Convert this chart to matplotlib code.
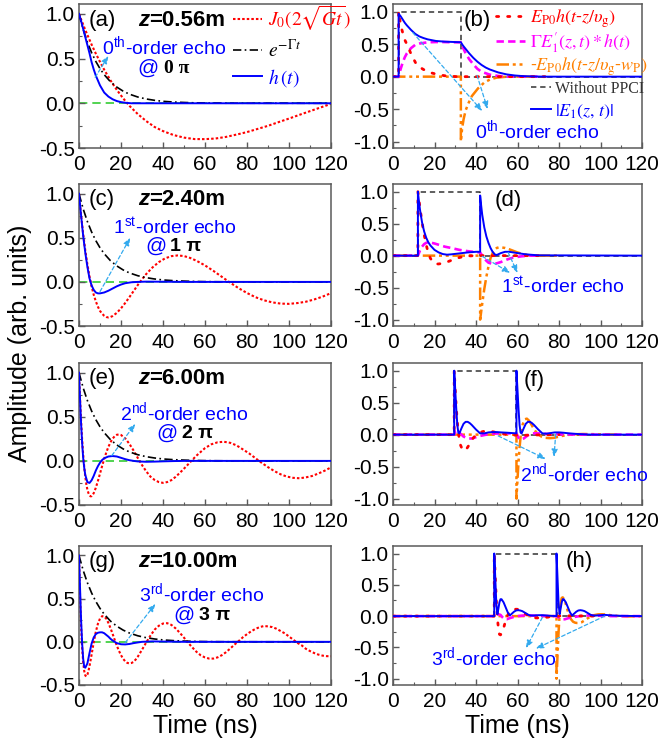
import matplotlib.pyplot as plt
from matplotlib.ticker import MultipleLocator, FormatStrFormatter

plt.rcParams['font.family'] = ['Liberation Sans', 'DejaVu Sans']
plt.rcParams['mathtext.fontset'] = 'stix'
plt.rcParams['axes.unicode_minus'] = False

# ---------------- left column: J0 kernel, exp decay and h(t) ----------------
t_j0_a = [0, 1, 2, 3, 4, 6, 8, 10, 12, 15, 18, 21, 24, 28, 32, 36, 40, 45, 50, 55, 60, 65,
          70, 75, 80, 85, 90, 95, 100, 105, 110, 115, 120]
j0_a = [1.0, 0.938, 0.878, 0.820, 0.764, 0.656, 0.556, 0.463, 0.375, 0.256, 0.150, 0.056,
        -0.028, -0.121, -0.199, -0.265, -0.311, -0.355, -0.384, -0.400, -0.401, -0.394,
        -0.376, -0.350, -0.322, -0.287, -0.252, -0.211, -0.171, -0.129, -0.088, -0.047, -0.007]

t_j0_c = [0, 0.5, 1, 2, 3, 4, 5, 6, 7, 8, 9, 10, 11, 12, 13, 14, 15, 16, 18, 20, 22, 24, 26,
          28, 30, 32, 35, 38, 41, 44, 47, 50, 53, 56, 60, 64, 68, 72, 76, 80, 84, 88, 92, 96,
          100, 104, 108, 112, 116, 120]
j0_c = [1.0, 0.873, 0.755, 0.540, 0.356, 0.197, 0.062, -0.052, -0.145, -0.220, -0.281, -0.329,
        -0.360, -0.384, -0.398, -0.403, -0.398, -0.387, -0.351, -0.300, -0.239, -0.173, -0.104,
        -0.035, 0.029, 0.089, 0.164, 0.224, 0.267, 0.292, 0.300, 0.293, 0.271, 0.239, 0.187,
        0.125, 0.058, -0.009, -0.071, -0.126, -0.173, -0.208, -0.232, -0.246, -0.249, -0.240,
        -0.225, -0.199, -0.167, -0.127]

t_j0_e = [0, 0.25, 0.5, 1, 1.5, 2, 2.5, 3, 3.5, 4, 4.5, 5, 5.5, 6, 6.5, 7, 8, 9, 10, 11, 12, 13,
          14, 15, 16, 17, 18, 19, 20, 22, 24, 26, 28, 30, 32, 34, 36, 38, 40, 42, 44, 46, 48, 50,
          52, 54, 56, 58, 60, 63, 66, 69, 72, 75, 78, 81, 84, 87, 90, 93, 96, 99, 102, 105, 108,
          111, 114, 117, 120]
j0_e = [1.0, 0.844, 0.700, 0.448, 0.238, 0.067, -0.072, -0.181, -0.265, -0.327, -0.365, -0.391,
        -0.402, -0.400, -0.385, -0.366, -0.305, -0.228, -0.144, -0.059, 0.022, 0.096, 0.159,
        0.211, 0.252, 0.280, 0.296, 0.300, 0.294, 0.256, 0.193, 0.117, 0.033, -0.047, -0.118,
        -0.178, -0.216, -0.240, -0.249, -0.240, -0.218, -0.181, -0.136, -0.088, -0.038, 0.013,
        0.061, 0.103, 0.145, 0.188, 0.211, 0.217, 0.205, 0.176, 0.131, 0.085, 0.031, -0.022,
        -0.071, -0.115, -0.152, -0.178, -0.192, -0.197, -0.187, -0.171, -0.143, -0.111, -0.073]

t_j0_g = [0, 0.25, 0.5, 0.75, 1, 1.5, 2, 2.5, 3, 3.5, 4, 4.5, 5, 5.5, 6, 7, 8, 9, 10, 11, 12, 13,
          14, 15, 16, 17, 18, 19, 20, 21, 22, 23, 24, 25, 26, 27, 28, 30, 32, 34, 36, 38, 40, 42,
          44, 46, 48, 50, 52, 54, 56, 58, 60, 62, 64, 66, 68, 70, 72, 74, 76, 78, 80, 82, 84, 86,
          88, 90, 92, 94, 96, 98, 100, 102, 104, 106, 108, 110, 112, 114, 116, 118, 120]
j0_g = [1.0, 0.748, 0.529, 0.340, 0.179, -0.070, -0.237, -0.340, -0.390, -0.401, -0.380, -0.338,
        -0.282, -0.216, -0.147, -0.007, 0.115, 0.209, 0.270, 0.297, 0.294, 0.267, 0.219, 0.159,
        0.092, 0.023, -0.044, -0.103, -0.154, -0.197, -0.225, -0.244, -0.250, -0.245, -0.232,
        -0.205, -0.172, -0.092, -0.008, 0.071, 0.141, 0.186, 0.212, 0.216, 0.196, 0.156, 0.105,
        0.048, -0.012, -0.066, -0.117, -0.157, -0.181, -0.194, -0.194, -0.180, -0.155, -0.120,
        -0.078, -0.033, 0.008, 0.052, 0.089, 0.122, 0.150, 0.170, 0.183, 0.179, 0.171, 0.152,
        0.125, 0.098, 0.062, 0.025, -0.012, -0.040, -0.080, -0.107, -0.130, -0.148, -0.160,
        -0.166, -0.167]

t_exp = [0, 2, 4, 6, 8, 10, 12, 15, 18, 21, 24, 28, 32, 36, 40, 45, 50, 55, 60, 70, 120]
exp_decay = [1.0, 0.827, 0.684, 0.566, 0.468, 0.387, 0.320, 0.240, 0.181, 0.136, 0.102, 0.070,
             0.048, 0.033, 0.022, 0.014, 0.009, 0.005, 0.003, 0.001, 0.0]

t_h_a = [0, 1, 2, 3, 4, 5, 6, 7, 8, 10, 12, 14, 16, 18, 20, 22, 25, 30, 120]
h_a = [1.0, 0.92, 0.83, 0.74, 0.65, 0.56, 0.46, 0.38, 0.31, 0.20, 0.12, 0.075, 0.045, 0.025,
       0.013, 0.006, 0.0, 0.0, 0.0]

t_h_c = [0, 1, 2, 3, 4, 5, 6, 7, 8, 9, 10, 12, 14, 16, 18, 20, 22, 25, 28, 32, 40, 50, 120]
h_c = [1.0, 0.75, 0.52, 0.33, 0.17, 0.04, -0.04, -0.09, -0.12, -0.13, -0.13, -0.12, -0.10,
       -0.075, -0.05, -0.03, -0.015, -0.004, 0.0, 0.003, 0.002, 0.0, 0.0]

t_h_e = [0, 0.5, 1, 1.5, 2, 2.5, 3, 4, 5, 6, 7, 8, 9, 10, 11, 12, 14, 16, 18, 20, 22, 24, 26,
         28, 32, 36, 40, 45, 50, 120]
h_e = [1.0, 0.70, 0.42, 0.20, 0.03, -0.08, -0.16, -0.24, -0.25, -0.22, -0.17, -0.11, -0.06,
       -0.02, 0.01, 0.03, 0.05, 0.055, 0.05, 0.035, 0.02, 0.008, 0.0, -0.006, -0.01, -0.008,
       -0.005, -0.002, 0.0, 0.0]

t_h_g = [0, 0.5, 1, 1.5, 2, 2.5, 3, 4, 5, 6, 7, 8, 9, 10, 11, 12, 13, 14, 15, 16, 17, 18, 20,
         22, 24, 26, 28, 30, 35, 40, 50, 120]
h_g = [1.0, 0.62, 0.25, -0.02, -0.20, -0.29, -0.30, -0.25, -0.13, -0.02, 0.05, 0.09, 0.105,
       0.11, 0.11, 0.10, 0.08, 0.06, 0.035, 0.015, 0.0, -0.015, -0.028, -0.03, -0.025, -0.015,
       -0.007, 0.0, 0.005, 0.003, 0.0, 0.0]

# ---------------- right column: field components ----------------
pp_level = [0, 0, 1, 1, 0, 0]
t_pp_b = [0, 2.7, 2.7, 32.7, 32.7, 120]
t_pp_d = [0, 12, 12, 42, 42, 120]
t_pp_f = [0, 29.5, 29.5, 59.5, 59.5, 120]
t_pp_h = [0, 48.8, 48.8, 78.8, 78.8, 120]

t_red_b = [0, 2.7, 2.7, 3.7, 4.4, 5.5, 7.1, 8.7, 11.1, 12.7, 14.7, 18.2, 20.7, 24.7, 30.7, 75]
red_b = [0, 0, 1.0, 0.80, 0.71, 0.58, 0.47, 0.35, 0.20, 0.15, 0.11, 0.06, 0.04, 0.015, 0.0, 0.0]
t_mag_b = [0, 2.7, 3.7, 4.7, 5.7, 6.7, 8.7, 10.7, 12.7, 16.7, 22.7, 28.7, 32.7, 33.7, 34.7,
           36.7, 38.7, 40.7, 42.7, 46.7, 50.7, 55, 70]
mag_b = [0, 0, 0.12, 0.22, 0.30, 0.36, 0.44, 0.49, 0.51, 0.53, 0.535, 0.53, 0.53, 0.45, 0.38,
         0.27, 0.19, 0.12, 0.075, 0.03, 0.01, 0.0, 0.0]
t_org_b = [0, 32.7, 32.7, 33.3, 34, 35, 36.5, 38, 41, 44, 47, 50, 55, 70]
org_b = [0, 0, -1.0, -0.80, -0.66, -0.52, -0.40, -0.30, -0.18, -0.09, -0.04, -0.015, 0.0, 0.0]
t_e1_b = [0, 2.7, 2.7, 3.7, 4.7, 5.7, 6.7, 8.7, 10.7, 12.7, 14.7, 16.7, 20.7, 24.7, 28.7, 32.7,
          33.7, 34.7, 35.7, 36.7, 38.7, 40.7, 42.7, 44.7, 46.7, 50.7, 54.7, 58.7, 62.7, 67.7,
          72.7, 120]
e1_b = [0, 0, 0.97, 0.93, 0.88, 0.83, 0.79, 0.72, 0.66, 0.62, 0.595, 0.575, 0.55, 0.54, 0.535,
        0.53, 0.48, 0.44, 0.40, 0.36, 0.29, 0.23, 0.18, 0.14, 0.11, 0.065, 0.035, 0.018, 0.008,
        0.003, 0.0, 0.0]

t_red_d = [0, 12, 12, 13, 14, 15, 16, 17, 18, 19, 20, 21, 22, 24, 26, 28, 30, 32, 34, 37, 40, 70]
red_d = [0, 0, 1.0, 0.75, 0.52, 0.33, 0.17, 0.04, -0.04, -0.09, -0.12, -0.13, -0.13, -0.12,
         -0.10, -0.075, -0.05, -0.03, -0.015, -0.004, 0.0, 0.0]
t_mag_d = [0, 12, 13, 14, 15, 16, 17, 18, 20, 22, 25, 28, 32, 36, 40, 42, 43, 44, 46, 48, 50,
           52, 55, 58, 62, 66, 70]
mag_d = [0, 0, 0.08, 0.14, 0.18, 0.20, 0.21, 0.205, 0.19, 0.17, 0.14, 0.12, 0.09, 0.07, 0.055,
         0.05, 0.0, -0.05, -0.11, -0.13, -0.12, -0.10, -0.06, -0.03, -0.01, 0.0, 0.0]
t_org_d = [0, 42, 42, 43, 44, 45, 46, 47, 48, 49, 50, 51, 52, 54, 56, 58, 60, 62, 64, 67, 70, 80]
org_d = [0, 0, -1.0, -0.75, -0.52, -0.33, -0.17, -0.04, 0.04, 0.09, 0.12, 0.13, 0.13, 0.12,
         0.10, 0.075, 0.05, 0.03, 0.015, 0.004, 0.0, 0.0]
t_e1_d = [0, 12, 12, 12.5, 13, 14, 15, 16, 17, 18, 20, 22, 24, 26, 28, 32, 36, 40, 42, 42, 42.5,
          43, 44, 45, 46, 47, 48, 49, 50, 52, 54, 56, 58, 60, 63, 66, 70, 120]
e1_d = [0, 0, 1.0, 0.85, 0.72, 0.52, 0.38, 0.28, 0.21, 0.16, 0.09, 0.05, 0.025, 0.015, 0.02,
        0.035, 0.05, 0.06, 0.06, 0.94, 0.78, 0.64, 0.44, 0.30, 0.20, 0.12, 0.06, 0.02, 0.01,
        0.04, 0.06, 0.06, 0.05, 0.04, 0.025, 0.015, 0.005, 0.0]

t_red_f = [0, 29.5, 29.5, 30, 30.5, 31, 31.5, 32, 32.5, 33.5, 34.5, 35.5, 36.5, 37.5, 38.5, 39.5,
           40.5, 41.5, 43.5, 45.5, 47.5, 49.5, 51.5, 53.5, 55.5, 57.5, 61.5, 65.5, 70, 80]
red_f = [0, 0, 1.0, 0.70, 0.42, 0.20, 0.03, -0.08, -0.16, -0.24, -0.25, -0.22, -0.17, -0.11,
         -0.06, -0.02, 0.01, 0.03, 0.05, 0.055, 0.05, 0.035, 0.02, 0.008, 0.0, -0.006, -0.01,
         -0.008, -0.004, 0.0]
t_mag_f = [0, 29.5, 30, 31, 32, 34, 36, 38, 40, 42, 45, 48, 52, 56, 59.5, 60.5, 61.5, 63, 65, 67,
           70, 75, 80, 90, 120]
mag_f = [0, 0, 0.05, 0.06, 0.03, -0.03, -0.06, -0.06, -0.04, -0.02, 0.0, 0.015, 0.02, 0.02, 0.02,
         -0.05, -0.08, -0.06, -0.01, 0.02, 0.02, 0.01, 0.005, 0.0, 0.0]
t_org_f = [0, 59.5, 59.5, 60, 60.5, 61, 61.5, 62, 62.5, 63.5, 64.5, 65.5, 66.5, 67.5, 68.5, 69.5,
           70.5, 71.5, 73.5, 75.5, 77.5, 79.5, 81.5, 83.5, 85.5, 87.5, 91.5, 95.5, 100, 110]
org_f = [0, 0, -1.0, -0.70, -0.42, -0.20, -0.03, 0.08, 0.16, 0.24, 0.25, 0.22, 0.17, 0.11, 0.06,
         0.02, -0.01, -0.03, -0.05, -0.055, -0.05, -0.035, -0.02, -0.008, 0.0, 0.006, 0.01,
         0.008, 0.004, 0.0]
t_e1_f = [0, 29.5, 29.5, 30, 30.5, 31, 31.5, 32, 33, 34, 35, 36, 37, 38, 40, 42, 44, 46, 48, 50,
          52, 55, 59.5, 59.5, 60, 60.5, 61, 61.5, 62, 63, 64, 65, 66, 67, 68, 70, 72, 74, 76, 78,
          80, 82, 85, 88, 92, 96, 120]
e1_f = [0, 0, 1.0, 0.70, 0.40, 0.15, 0.03, 0.02, 0.10, 0.17, 0.20, 0.20, 0.18, 0.15, 0.08, 0.02,
        0.02, 0.035, 0.04, 0.04, 0.035, 0.03, 0.02, 1.0, 0.70, 0.40, 0.15, 0.03, 0.02, 0.10,
        0.17, 0.20, 0.20, 0.18, 0.15, 0.08, 0.02, 0.015, 0.025, 0.035, 0.035, 0.03, 0.02, 0.012,
        0.005, 0.0, 0.0]

t_red_h = [0, 48.8, 48.8, 49.3, 49.8, 50.3, 50.8, 51.3, 51.8, 52.8, 53.8, 54.8, 55.8, 56.8, 57.8,
           58.8, 59.8, 60.8, 61.8, 62.8, 63.8, 64.8, 65.8, 66.8, 68.8, 70.8, 72.8, 74.8, 76.8,
           78.8, 83.8, 88.8, 98.8]
red_h = [0, 0, 1.0, 0.62, 0.25, -0.02, -0.20, -0.29, -0.30, -0.25, -0.13, -0.02, 0.05, 0.09,
         0.105, 0.11, 0.11, 0.10, 0.08, 0.06, 0.035, 0.015, 0.0, -0.015, -0.028, -0.03, -0.025,
         -0.015, -0.007, 0.0, 0.005, 0.003, 0.0]
t_mag_h = [0, 48.8, 49.8, 50.8, 51.8, 52.8, 53.8, 54.8, 56, 58, 60, 63, 66, 70, 75, 78.8, 79.8,
           80.8, 81.8, 82.8, 83.8, 84.8, 86, 88, 90, 93, 96, 100, 105, 120]
mag_h = [0, 0, 0.02, 0.03, 0.02, -0.02, -0.05, -0.05, -0.035, -0.015, 0.0, 0.01, 0.01, 0.005,
         0.0, 0.0, -0.02, -0.04, -0.05, -0.05, -0.04, -0.03, -0.02, -0.01, 0.0, 0.01, 0.01,
         0.005, 0.0, 0.0]
t_org_h = [0, 78.8, 78.8, 79.3, 79.8, 80.3, 80.8, 81.3, 81.8, 82.8, 83.8, 84.8, 85.8, 86.8, 87.8,
           88.8, 89.8, 90.8, 91.8, 92.8, 93.8, 94.8, 95.8, 96.8, 98.8, 100.8, 102.8, 104.8,
           106.8, 108.8, 113.8, 118.8, 120]
org_h = [0, 0, -1.0, -0.62, -0.25, 0.02, 0.20, 0.29, 0.30, 0.25, 0.13, 0.02, -0.05, -0.09,
         -0.105, -0.11, -0.11, -0.10, -0.08, -0.06, -0.035, -0.015, 0.0, 0.015, 0.028, 0.03,
         0.025, 0.015, 0.007, 0.0, -0.005, -0.003, 0.0]
t_e1_h = [0, 48.8, 48.8, 49.3, 49.8, 50.3, 50.8, 51.3, 51.8, 52.3, 53.3, 54.3, 55.3, 56.3, 57.3,
          58.3, 59.3, 60.3, 61.3, 62.3, 63.3, 64.3, 65.3, 66.3, 68, 70, 72, 74, 76, 78.8, 78.8,
          79.3, 79.8, 80.3, 80.8, 81.3, 81.8, 82.3, 83.3, 84.3, 85.3, 86.3, 87.3, 88.3, 89.3,
          90.3, 91.3, 92.3, 93.3, 94.3, 95.3, 96.3, 98, 100, 102, 104, 106, 110, 120]
e1_h = [0, 0, 1.0, 0.60, 0.20, 0.03, 0.12, 0.22, 0.27, 0.27, 0.22, 0.14, 0.06, 0.01, 0.04, 0.07,
        0.09, 0.095, 0.09, 0.08, 0.06, 0.04, 0.02, 0.01, 0.01, 0.015, 0.015, 0.01, 0.005, 0.0,
        1.0, 0.60, 0.20, 0.03, 0.12, 0.22, 0.27, 0.27, 0.22, 0.14, 0.06, 0.01, 0.04, 0.07, 0.09,
        0.095, 0.09, 0.08, 0.06, 0.04, 0.02, 0.01, 0.01, 0.015, 0.02, 0.015, 0.01, 0.005, 0.0]

panel_tags_left = ['(a)', '(c)', '(e)', '(g)']
panel_tags_right = ['(b)', '(d)', '(f)', '(h)']
z_values = ['=0.56m', '=2.40m', '=6.00m', '=10.00m']
orders = ['0', '1', '2', '3']
order_sup = ['th', 'st', 'nd', 'rd']

C_RED = '#ff0000'
C_BLUE = '#0000ff'
C_MAG = '#ff00ff'
C_ORG = '#ff8000'
C_GRN = '#33cc33'
C_ARR = '#33aaee'
C_SPINE = '#5a5a5a'

fig = plt.figure(figsize=(6.59, 7.44), dpi=100)
W, H = 659, 744
row_top = [4, 184, 363, 546]
row_bot = [148, 326, 505, 685]
col_x = [(79, 331), (393, 642)]


def make_axes(col, row):
    x0, x1 = col_x[col]
    return fig.add_axes([x0 / W, 1 - row_bot[row] / H, (x1 - x0) / W,
                         (row_bot[row] - row_top[row]) / H])


def style(ax, ylim, yticks):
    ax.set_xlim(0, 120)
    ax.set_ylim(*ylim)
    ax.xaxis.set_major_locator(MultipleLocator(20))
    ax.xaxis.set_minor_locator(MultipleLocator(10))
    ax.set_yticks(yticks)
    ax.yaxis.set_minor_locator(MultipleLocator(0.25))
    ax.yaxis.set_major_formatter(FormatStrFormatter('%.1f'))
    ax.tick_params(which='both', direction='in', color=C_SPINE, labelsize=15,
                   top=False, right=False)
    ax.tick_params(which='major', length=4, width=1.0)
    ax.tick_params(which='minor', length=2.5, width=0.8)
    ax.tick_params(axis='x', pad=5)
    ax.tick_params(axis='y', pad=3)
    for s in ax.spines.values():
        s.set_color(C_SPINE)
        s.set_linewidth(1.1)


def arrow(ax, start, end):
    ax.annotate('', xy=end, xytext=start, zorder=6,
                arrowprops=dict(arrowstyle='-|>,head_length=0.45,head_width=0.18',
                                color=C_ARR, lw=0.9, ls=(0, (3, 2)),
                                shrinkA=0, shrinkB=0))


def echo_label(ax, pos, row):
    ax.text(*pos, orders[row] + r'$^{\mathregular{' + order_sup[row] + '}}$-order echo',
            color=C_BLUE, fontsize=14, va='center', ha='left')


# ---------- left column ----------
left_data = [(t_j0_a, j0_a, t_h_a, h_a), (t_j0_c, j0_c, t_h_c, h_c),
             (t_j0_e, j0_e, t_h_e, h_e), (t_j0_g, j0_g, t_h_g, h_g)]
echo_pos = [(10.8, 0.63), (16.4, 0.62), (19.6, 0.54), (28.4, 0.55)]
at_pos = [(27.6, 0.39), (31.6, 0.40), (37.0, 0.31), (45.0, 0.31)]
pi_pos = [(40.6, 0.39), (43.5, 0.40), (49.0, 0.31), (57.0, 0.31)]
left_arrows = [((7.7, 0.29), (14.0, 0.53)), ((10.0, -0.11), (24.4, 0.50)),
               ((15.6, 0.06), (26.8, 0.42)), ((22.0, -0.01), (36.4, 0.44))]

for row, (tj, j0, th, h) in enumerate(left_data):
    ax = make_axes(0, row)
    style(ax, (-0.5, 1.11), [-0.5, 0.0, 0.5, 1.0])
    ax.plot([0, 120], [0, 0], color=C_GRN, lw=1.2, ls=(0, (5, 3)), zorder=1)
    l_j0, = ax.plot(tj, j0, color=C_RED, lw=1.5, ls=(0, (1.2, 1.0)), zorder=2)
    l_exp, = ax.plot(t_exp, exp_decay, color='black', lw=1.2, ls=(0, (5, 2, 1, 2)), zorder=3)
    l_h, = ax.plot(th, h, color=C_BLUE, lw=1.4, zorder=4)

    ax.text(4.5, 0.93, panel_tags_left[row], fontsize=16, va='center', ha='left')
    zt = ax.text(28, 0.93, 'z', fontsize=16, fontweight='bold', style='italic',
                 va='center', ha='left')
    ax.annotate(z_values[row], xy=(1, 0.5), xycoords=zt, fontsize=16, fontweight='bold',
                va='center', ha='left')

    echo_label(ax, echo_pos[row], row)
    ax.text(*at_pos[row], '@', color=C_BLUE, fontsize=15, va='center', ha='left')
    pi_family = 'Liberation Serif' if row == 0 else 'Liberation Sans'
    ax.text(*pi_pos[row], orders[row] + ' \u03c0', color='black', fontsize=14,
            fontweight='bold', family=pi_family, va='center', ha='left')
    arrow(ax, *left_arrows[row])

    if row == 0:
        ax.legend([l_j0, l_exp, l_h],
                  [r'$J_0(2\sqrt{Gt})$', r'$e^{-\Gamma t}$', r'$h\,(t)$'],
                  loc='upper left', bbox_to_anchor=(0.612, 1.0), frameon=False,
                  fontsize=14, handlelength=1.5, handletextpad=0.3, labelspacing=0.3,
                  borderpad=0, borderaxespad=0, labelcolor='linecolor')
    if row == 3:
        ax.set_xlabel('Time (ns)', fontsize=18, labelpad=2)

# ---------- right column ----------
right_data = [(t_pp_b, t_red_b, red_b, t_mag_b, mag_b, t_org_b, org_b, t_e1_b, e1_b),
              (t_pp_d, t_red_d, red_d, t_mag_d, mag_d, t_org_d, org_d, t_e1_d, e1_d),
              (t_pp_f, t_red_f, red_f, t_mag_f, mag_f, t_org_f, org_f, t_e1_f, e1_f),
              (t_pp_h, t_red_h, red_h, t_mag_h, mag_h, t_org_h, org_h, t_e1_h, e1_h)]
tag_pos = [(34, 0.86), (49, 0.86), (63, 0.84), (83, 0.87)]
echo_pos_r = [(39.6, -0.84), (52.0, -0.48), (61.0, -0.62), (18.2, -0.67)]
right_arrows = [[((9.5, 0.68), (43.0, -0.53)), ((40.5, 0.02), (45.6, -0.50))],
                [((43.0, -0.01), (56.5, -0.27)), ((55.5, 0.05), (60.0, -0.27))],
                [((50.7, -0.02), (73.6, -0.38)), ((78.4, 0.01), (77.6, -0.35))],
                [((72.0, -0.02), (64.1, -0.51)), ((102.0, 0.0), (68.8, -0.52))]]

for row, (tpp, tr, r, tm, m, to, o, te, e) in enumerate(right_data):
    ax = make_axes(1, row)
    style(ax, (-1.1, 1.12), [-1.0, -0.5, 0.0, 0.5, 1.0])
    l_pp, = ax.plot(tpp, pp_level, color='#333333', lw=1.1, ls=(0, (3.5, 2.5)), zorder=1)
    l_org, = ax.plot(to, o, color=C_ORG, lw=1.8, ls=(0, (5, 1.5, 1.2, 1.5, 1.2, 1.5)), zorder=2)
    l_mag, = ax.plot(tm, m, color=C_MAG, lw=1.9, ls=(0, (2.8, 1.6)), zorder=3)
    l_red, = ax.plot(tr, r, color=C_RED, lw=2.0, ls=(0, (0.8, 3.2)),
                     dash_capstyle='round', zorder=4)
    l_e1, = ax.plot(te, e, color=C_BLUE, lw=1.4, zorder=5)

    ax.text(*tag_pos[row], panel_tags_right[row], fontsize=16, va='center', ha='left')
    echo_label(ax, echo_pos_r[row], row)
    for a in right_arrows[row]:
        arrow(ax, *a)

    if row == 0:
        leg1 = ax.legend([l_red, l_mag, l_org],
                         [r'$E_{\rm P0}h(t$-$z/\upsilon_{\rm g})$',
                          r"$\Gamma E_1^{\prime}(z,t)*h(t)$",
                          r'-$E_{\rm P0}h(t$-$z/\upsilon_{\rm g}$-$w_{\rm P})$'],
                         loc='upper left', bbox_to_anchor=(0.415, 0.975), frameon=False,
                         fontsize=13, handlelength=1.6, handletextpad=0.25,
                         labelspacing=0.0, borderpad=0, borderaxespad=0,
                         labelcolor='linecolor')
        ax.add_artist(leg1)
        leg2 = ax.legend([l_pp, l_e1], ['Without PPCI', r'$|E_1(z,\,t)|$'],
                         loc='upper left', bbox_to_anchor=(0.553, 0.47), frameon=False,
                         fontsize=13, handlelength=1.1, handletextpad=0.25,
                         labelspacing=0.3, borderpad=0, borderaxespad=0,
                         labelcolor='linecolor')
        leg2.get_texts()[0].set_family('Liberation Serif')
        leg2.get_texts()[0].set_fontsize(11.5)
    if row == 3:
        ax.set_xlabel('Time (ns)', fontsize=18, labelpad=2)

fig.text(0.03, 0.538, 'Amplitude (arb. units)', rotation=90, fontsize=18,
         va='center', ha='center')

fig.savefig('out.png', dpi=100)
